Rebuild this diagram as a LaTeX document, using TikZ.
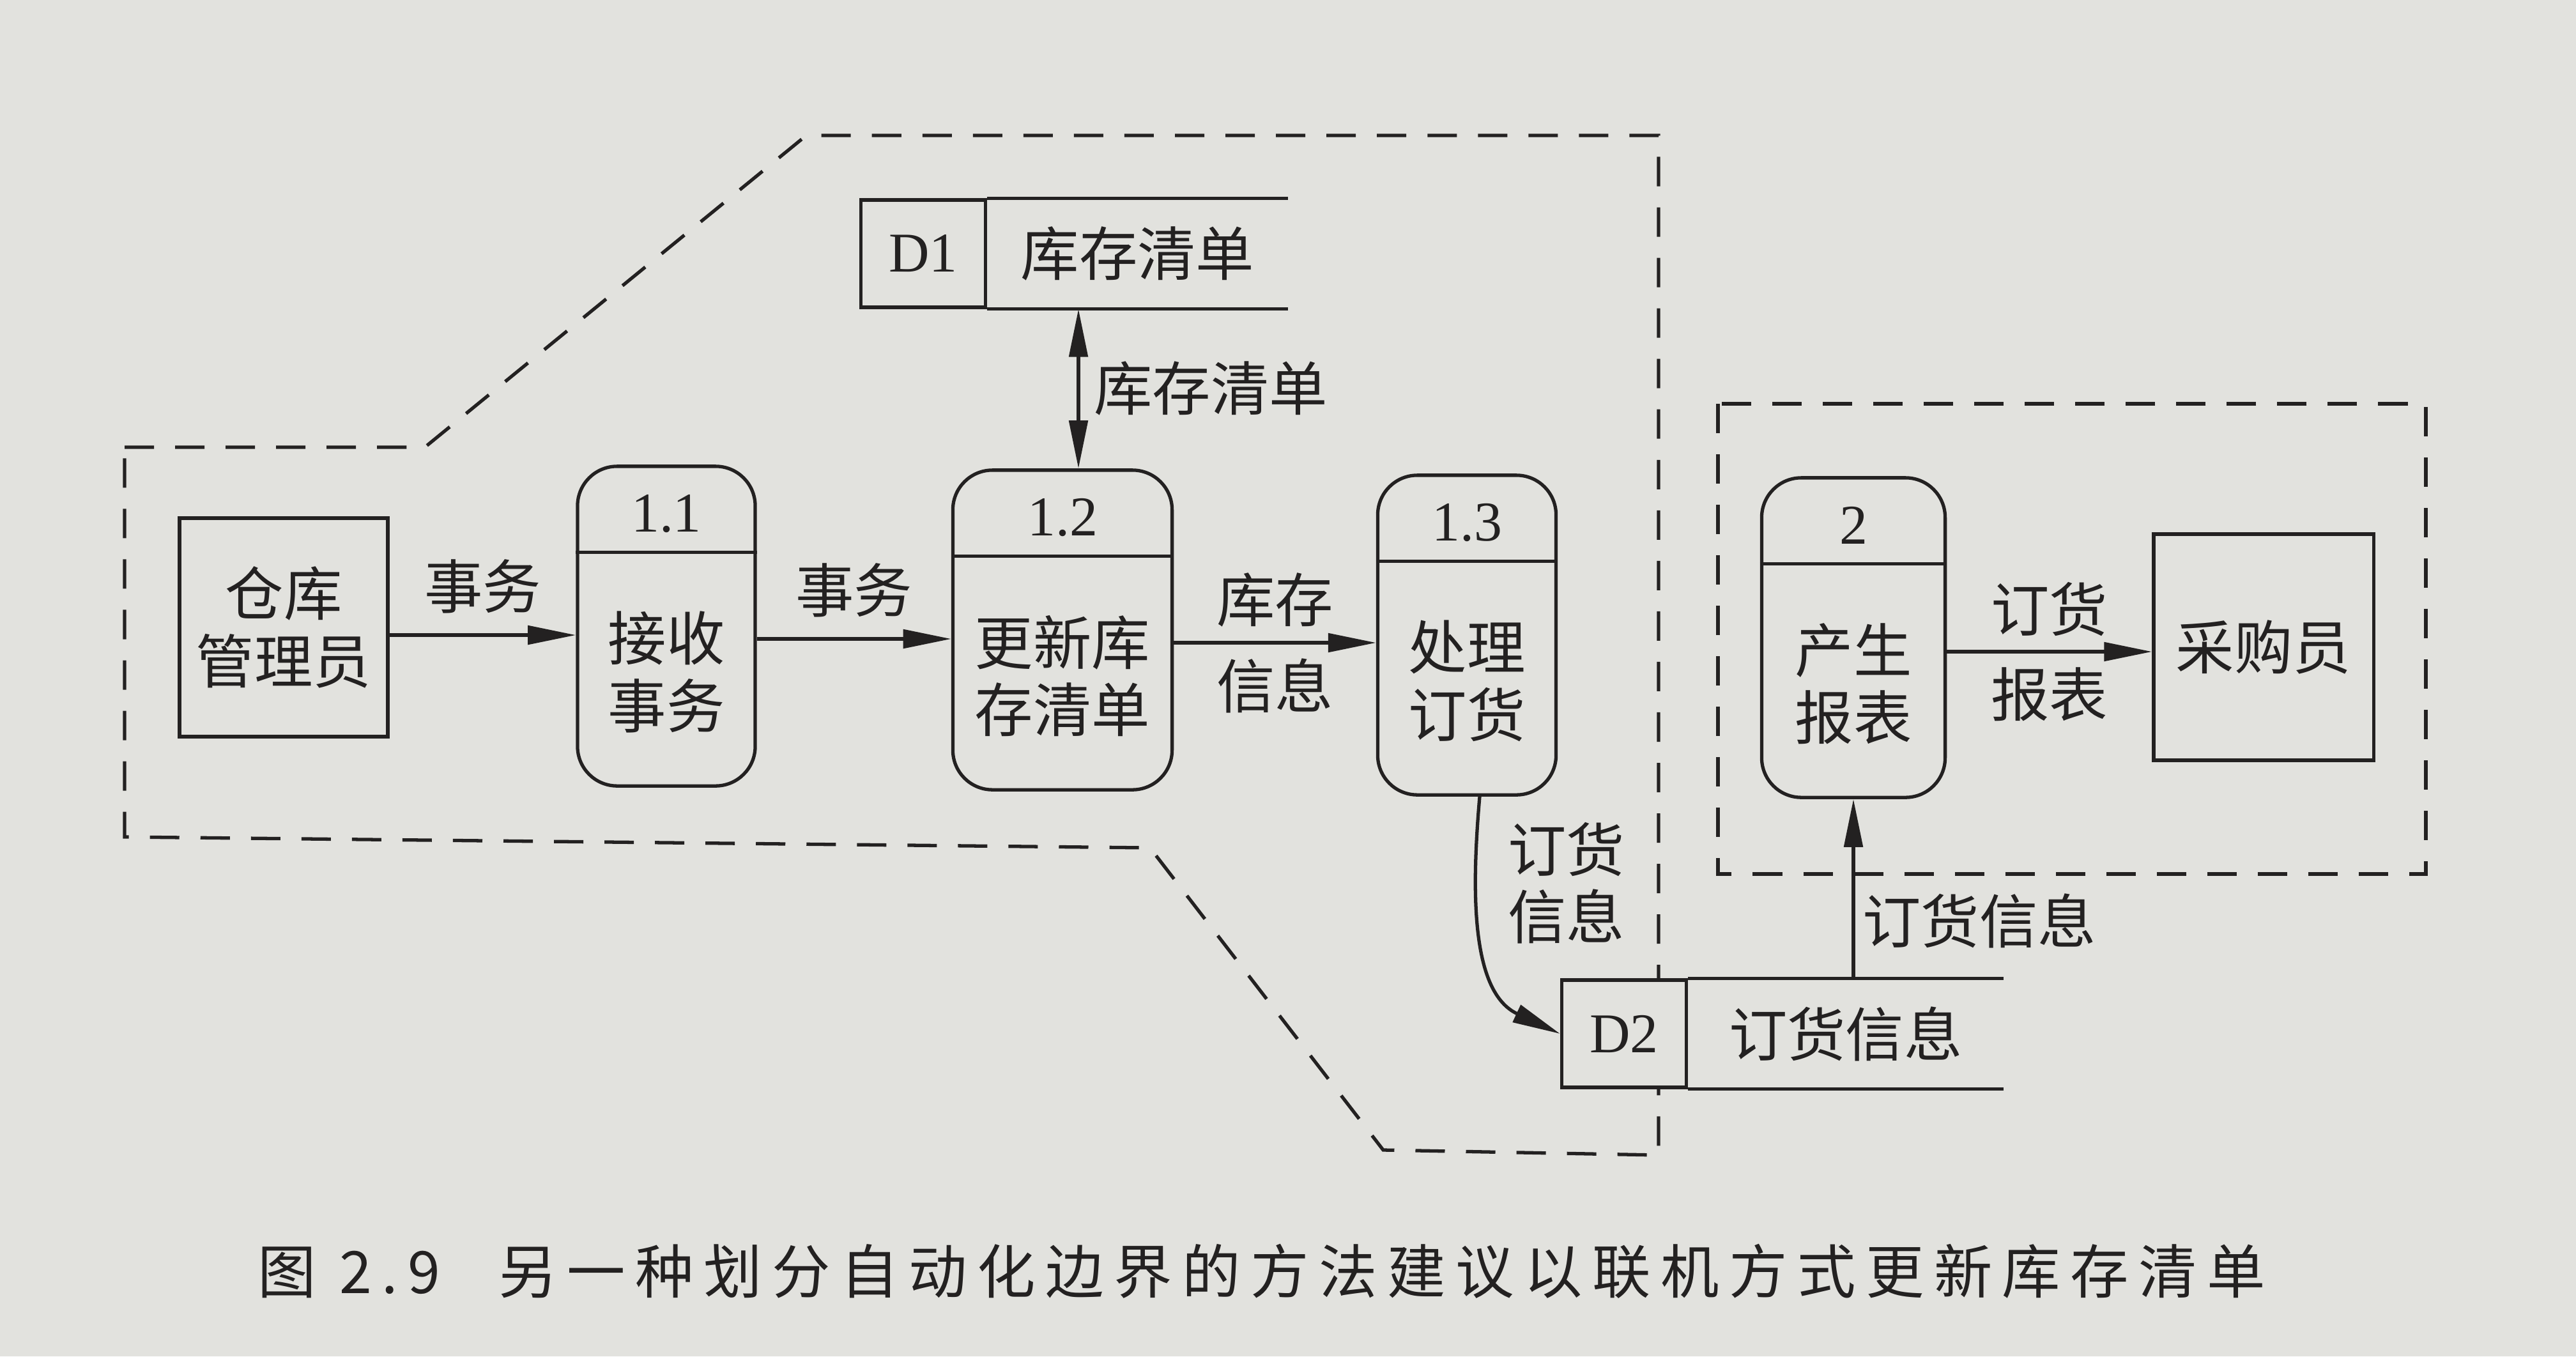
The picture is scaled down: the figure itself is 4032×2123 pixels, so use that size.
\documentclass[tikz,border=0pt]{standalone}
\usepackage{fontspec}
\setmainfont{Liberation Serif}
\newfontfamily\cjk{Noto Sans CJK SC}
\newfontfamily\cjkcap[LetterSpace=17]{Noto Sans CJK SC}
\usetikzlibrary{arrows.meta}
\definecolor{paper}{RGB}{226,226,222}
\definecolor{ink}{RGB}{35,33,33}

\begin{document}
\begin{tikzpicture}[
        x=0.01cm, y=-0.01cm,
        color=ink, line width=1.5pt,
        >={Triangle[length=0.75cm,width=0.29cm]},
        zh/.style={font=\cjk\fontsize{26}{30}\selectfont, align=center},
        idtext/.style={font=\fontsize{25}{30}\selectfont},
        entity/.style={draw, fill=paper, zh, minimum width=3.26cm, minimum height=3.42cm},
        proc/.style={draw, fill=paper, rounded corners=0.62cm, minimum width=#1, minimum height=5cm},
        storeid/.style={draw, fill=paper, idtext, minimum width=1.95cm, minimum height=1.68cm},
        storename/.style={fill=paper, zh, anchor=west, minimum height=1.68cm},
        bound/.style={dash pattern=on 0.46cm off 0.33cm}
    ]

    \path[use as bounding box, fill=paper] (0,0) rectangle (4032,2123);

    % automation boundaries
    \draw[bound] (195,700) -- (665,700) -- (1262,212) -- (2596,212) -- (2596,1808)
        -- (2165,1800) -- (1800,1327) -- (195,1310) -- cycle;
    \draw[bound] (2689,632) rectangle (3797,1368);

    % external entities
    \node[entity] (clerk) at (444,982) {仓库\\管理员};
    \node[entity, minimum width=3.44cm, minimum height=3.54cm] (buyer) at (3543,1013) {采购员};

    % processes
    \node[proc=2.78cm] (p11) at (1043,980) {};
    \node[idtext] (p11n) at ([yshift=-0.77cm]p11.north) {1.1};
    \draw ([yshift=-1.37cm]p11.north west) -- ([yshift=-1.37cm]p11.north east);
    \node[zh] (p11t) at ([yshift=-0.72cm]p11.center) {接收\\事务};

    \node[proc=3.43cm] (p12) at (1663,986) {};
    \node[idtext] (p12n) at ([yshift=-0.77cm]p12.north) {1.2};
    \draw ([yshift=-1.37cm]p12.north west) -- ([yshift=-1.37cm]p12.north east);
    \node[zh] (p12t) at ([yshift=-0.72cm]p12.center) {更新库\\存清单};

    \node[proc=2.79cm] (p13) at (2296,994) {};
    \node[idtext] (p13n) at ([yshift=-0.77cm]p13.north) {1.3};
    \draw ([yshift=-1.37cm]p13.north west) -- ([yshift=-1.37cm]p13.north east);
    \node[zh] (p13t) at ([yshift=-0.72cm]p13.center) {处理\\订货};

    \node[proc=2.87cm] (p2) at (2901,998) {};
    \node[idtext] (p2n) at ([yshift=-0.77cm]p2.north) {2};
    \draw ([yshift=-1.37cm]p2.north west) -- ([yshift=-1.37cm]p2.north east);
    \node[zh] (p2t) at ([yshift=-0.72cm]p2.center) {产生\\报表};

    % data stores
    \node[storeid] (d1id) at (1445,397) {D1};
    \node[storename, minimum width=4.65cm] (d1) at (d1id.east) {库存清单};
    \draw (d1id.north east) -- (d1.north east);
    \draw (d1id.south east) -- (d1.south east);

    \node[storeid] (d2id) at (2542,1618) {D2};
    \node[storename, minimum width=4.88cm] (d2) at (d2id.east) {订货信息};
    \draw (d2id.north east) -- (d2.north east);
    \draw (d2id.south east) -- (d2.south east);

    % data flows
    \draw[->] ([yshift=-0.12cm]clerk.east) -- node[zh, above=0.2cm] (f1) {事务}
        ([yshift=-0.12cm]clerk.east -| p11.west);
    \draw[->] ([yshift=-0.2cm]p11.east) -- node[zh, above=0.2cm] (f2) {事务}
        ([yshift=-0.2cm]p11.east -| p12.west);
    \draw[<->] ([xshift=0.25cm]p12.north |- d1.south) -- node[zh, right=0.1cm] (f3) {库存清单}
        ([xshift=0.25cm]p12.north);
    \draw[->] ([yshift=-0.2cm]p12.east) -- node[zh, above=0.1cm] (f4a) {库存} node[zh, below=0.1cm] (f4b) {信息}
        ([yshift=-0.2cm]p12.east -| p13.west);
    \draw[->] ([xshift=0.2cm]p13.south) to[out=-95, in=155]
        node[zh, right=0.35cm, pos=0.3] (f5) {订货\\信息} (d2id.west);
    \draw[->] (p2.south |- d2.north) -- node[zh, right, pos=0.32] (f6) {订货信息} (p2.south);
    \draw[->] ([yshift=-0.22cm]p2.east) -- node[zh, above=0.1cm] (f7a) {订货} node[zh, below=0.1cm] (f7b) {报表}
        ([yshift=-0.22cm]p2.east -| buyer.west);

    % caption
    \node[font=\cjkcap\fontsize{26}{30}\selectfont] (cap) at (1975,1990)
        {图 2.9\hspace{1em}另一种划分自动化边界的方法建议以联机方式更新库存清单};

\end{tikzpicture}
\end{document}
